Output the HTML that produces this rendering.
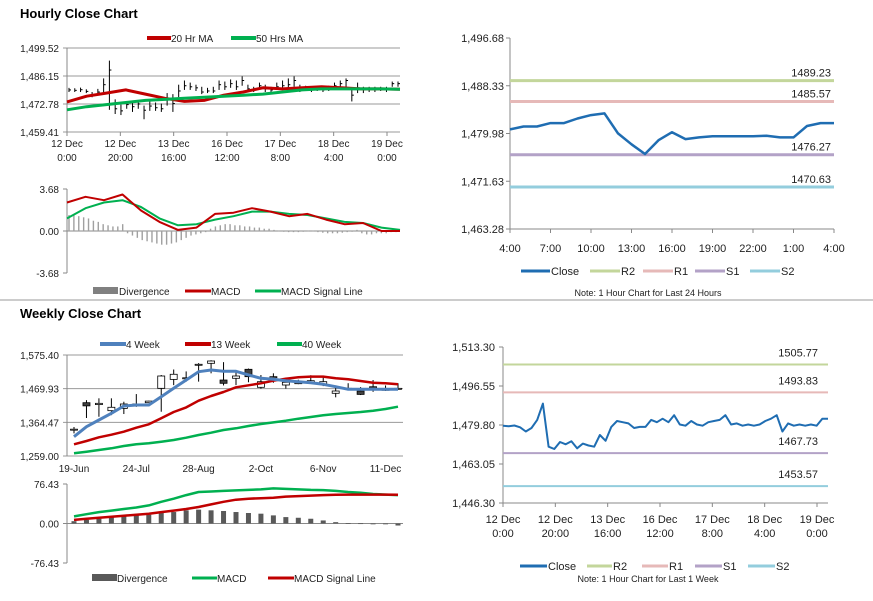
<!DOCTYPE html>
<html><head><meta charset="utf-8"><style>
html,body{margin:0;padding:0;background:#fff;}
svg{display:block;font-family:"Liberation Sans",Arial,sans-serif;}
</style></head><body>
<svg id="c" width="873" height="601" viewBox="0 0 873 601" xmlns="http://www.w3.org/2000/svg">
<text x="20" y="18" font-size="13" font-weight="bold" fill="#000">Hourly Close Chart</text>
<line x1="0" y1="300" x2="873" y2="300" stroke="#999" stroke-width="1"/>
<text x="20" y="318" font-size="13" font-weight="bold" fill="#000">Weekly Close Chart</text>
</svg>
<script>
// ---------- data ----------
const hourlyClose=[1479.5,1479.3,1479.6,1478.8,1477,1478.5,1482,1489,1470.5,1469.5,1472.5,1471.5,1472.8,1469.8,1471.8,1471,1470.5,1475.5,1473,1479,1481.5,1481,1480.5,1478.5,1479,1479,1482,1481,1482.5,1481,1484,1480,1479.5,1481.5,1480,1479.5,1481,1481.5,1482,1484,1480,1480.5,1479.5,1480,1479.5,1480,1481.5,1482.5,1484,1477,1480.5,1479.5,1480,1479.5,1480,1479.5,1482.5,1482.5];
const hourlyHigh=[1480.5,1480.3,1480.6,1479.8,1478.5,1480,1485,1493.5,1475,1472.5,1474,1473.5,1474,1472,1474.5,1473.5,1473,1478,1477.5,1482,1484,1483,1482,1481,1480.5,1481,1484,1483.5,1484.5,1484,1486,1482,1481,1483,1482,1481,1483,1484,1485,1486,1482,1481.5,1481,1481,1481,1481.5,1483,1484,1485,1480,1483,1481,1481,1481,1481,1481,1483.5,1483.5];
const hourlyLow=[1478.5,1478.5,1478.5,1478,1476,1477.5,1478,1470,1468,1467.5,1470.5,1469,1470.5,1465.5,1469.5,1469.5,1469,1472,1469,1476,1479.5,1479.5,1479,1477.5,1478,1478,1479.5,1479.5,1480.5,1479.5,1481.5,1478.5,1478.5,1479.5,1478.5,1478.5,1479.5,1480,1480,1481,1478.5,1479,1478.5,1479,1478.5,1479,1480,1481,1481,1474,1478,1478,1478.5,1478.5,1479,1478.5,1481,1481];
const ma20=[1473.8,1476.5,1478,1479.5,1477.5,1475.5,1474,1474.5,1477,1478.5,1480.5,1480,1480.5,1481,1480.5,1480,1480,1479.8];
const ma50=[1470,1471.5,1472.5,1473.5,1474.5,1475,1475.5,1476,1476.5,1477,1477.5,1478.5,1479.5,1480,1480,1480,1480,1479.8];
const hourTickLabels=[["12 Dec","0:00"],["12 Dec","20:00"],["13 Dec","16:00"],["16 Dec","12:00"],["17 Dec","8:00"],["18 Dec","4:00"],["19 Dec","0:00"]];
const hPriceTicks=[1459.41,1472.78,1486.15,1499.52];
const hMacd=[2.5,3.0,2.7,3.2,1.8,0.8,0.1,0.3,1.5,1.6,2.0,1.7,1.3,1.5,1.0,0.6,0.7,0.0,0.0];
const hSignal=[1.1,2.0,2.5,2.7,2.1,1.1,0.5,0.6,1.0,1.3,1.7,1.7,1.5,1.4,1.1,0.8,0.7,0.3,0.1];
const hDiv=[1.4,1.4,1.3,1.2,1.1,0.9,0.8,0.6,0.5,0.4,0.4,0.6,-0.2,-0.4,-0.6,-0.8,-0.9,-1.0,-1.1,-1.2,-1.2,-1.1,-1.0,-0.8,-0.6,-0.4,-0.3,-0.2,-0.1,0.2,0.4,0.5,0.6,0.6,0.5,0.5,0.4,0.4,0.3,0.3,0.2,0.2,0.1,0.05,-0.05,-0.1,-0.1,-0.1,-0.05,0.05,0.05,-0.1,-0.15,-0.2,-0.2,-0.2,-0.15,-0.1,-0.05,0.1,-0.2,-0.3,-0.3,-0.2,-0.2,-0.2,-0.1,-0.1];
const hMacdTicks=[-3.68,0,3.68];
const dayClose=[1480.7,1481.2,1481.2,1481.8,1481.8,1482.6,1483.2,1483.5,1480.0,1478.1,1476.4,1478.8,1480.2,1479.0,1479.3,1479.5,1479.5,1479.5,1479.5,1479.6,1479.3,1479.3,1481.3,1481.8,1481.8];
const dayTickLabels=["4:00","7:00","10:00","13:00","16:00","19:00","22:00","1:00","4:00"];
const dayTicks=[1463.28,1471.63,1479.98,1488.33,1496.68];
const dayLevels=[1489.23,1485.57,1476.27,1470.63];
const weekLevels=[1505.77,1493.83,1467.73,1453.57];
const weekHourTicks=[1446.30,1463.05,1479.80,1496.55,1513.30];
const wOpen=[1340,1426,1420,1401,1408,1418,1426,1471,1499,1502,1545,1549.4,1497,1502.4,1530.6,1474.2,1506,1481.4,1487,1486.7,1483,1455.4,1469,1462.6,1476,1467,1470];
const wClose=[1343,1416,1424,1411.6,1421.9,1422,1431,1509.6,1515,1504,1546.3,1556.6,1486.7,1509.6,1507.5,1491.8,1507.5,1489.9,1488.6,1494.9,1491.8,1462.6,1471,1452,1468,1468,1471];
const wHigh=[1350,1434,1439.7,1439.7,1429,1453,1432,1512.7,1530,1524,1550,1559,1553,1524,1533,1512.7,1518,1505,1498,1512,1505,1480,1487,1475,1497,1480,1487];
const wLow=[1330,1378,1382,1387,1390.5,1413,1425,1397.7,1481,1492,1492,1518,1480,1481,1490,1470,1488.5,1470,1484,1486,1478,1442.8,1465,1450,1460,1463,1467];
const wk4=[1319.5,1350.9,1371.8,1392.7,1415.6,1418.8,1418.8,1444.9,1471,1497,1523.2,1528.4,1524.3,1524.3,1513,1502.4,1499.2,1495,1491.9,1488.7,1483.5,1476.2,1467.8,1467.8,1467.8,1467.8,1467.8];
const wk13=[1295.6,1306,1317.5,1325.8,1335.2,1347.8,1358.2,1377,1396.8,1411.4,1432.3,1447,1459.5,1474.1,1480.4,1486.6,1495,1501.3,1505.5,1507.6,1507.6,1502.3,1499.2,1493.9,1488.7,1486.6,1483.5];
const wk40=[1267.4,1272.5,1277.8,1283,1290.3,1295.5,1298.7,1303.9,1309.1,1316.4,1324.8,1332.1,1340.4,1345.7,1353,1359.2,1364.4,1369.7,1375.9,1381.2,1386.4,1390.6,1393.7,1396.8,1401,1406.2,1413.5];
const weekTickLabels=["19-Jun","24-Jul","28-Aug","2-Oct","6-Nov","11-Dec"];
const weekTickIdx=[0,5,10,15,20,25];
const wPriceTicks=[1259.00,1364.47,1469.93,1575.40];
const wMacd=[13.7,18,22,25,28,31,35,42,48,55,61,62,63,64,65,66,68,67,66,65,64.7,63,61,59.5,57,56,55];
const wSignal=[7,9,11,13,15,17,19,22,25,28,32,37,42,46,48,49,50,52,53,54,55,55.5,56,56,56,56,55.5];
const wDiv=[4.5,7.2,9.2,12.4,14.4,15.7,17,20.3,22.2,25.5,26.8,25.5,24.2,22.2,20.3,19,15.7,12.4,11.1,9.2,5.9,2.6,0.7,0.5,-0.6,-1,-3.9];
const wMacdTicks=[-76.43,0,76.43];

// ---------- helpers ----------
const svg=document.getElementById('c');
const NS='http://www.w3.org/2000/svg';
function mk(tag,a){const e=document.createElementNS(NS,tag);for(const k in a)e.setAttribute(k,a[k]);svg.appendChild(e);return e;}
function lin(d0,d1,r0,r1){return v=>r0+(v-d0)*(r1-r0)/(d1-d0);}
function idx(n,x0,x1){return i=>x0+i*(x1-x0)/(n-1);}
function fmt(v){return v.toLocaleString('en-US',{minimumFractionDigits:2,maximumFractionDigits:2});}
function poly(arr,xf,yf,color,w){return mk('polyline',{points:arr.map((v,i)=>xf(i).toFixed(1)+','+yf(v).toFixed(1)).join(' '),fill:'none',stroke:color,'stroke-width':w,'stroke-linejoin':'round'});}
function txt(x,y,s,anchor,size){const t=mk('text',{x:x,y:y,'font-size':size||10,fill:'#222','text-anchor':anchor||'start'});t.textContent=s;return t;}
const RED='#c00000',GRN='#00b050',BLUE='#4f81bd',CLOSE='#1f6db2',GRAY='#808080';
const LV=['#c3d69b','#e6b9b8','#b3a2c7','#93cddd'];

// ---------- Panel A: hourly price ----------
{const X0=67,X1=400,yA=lin(1459.41,1499.52,132,48);
 hPriceTicks.forEach(v=>{let g=mk('line',{x1:X0-4,x2:X1,y1:yA(v),y2:yA(v),stroke:'#999','stroke-width':1});
  
  
  let t=txt(X0-8,yA(v)+4,fmt(v),'end');
  
  });
 let ax=mk('line',{x1:X0,x2:X0,y1:48,y2:132,stroke:'#888'});
 
 
 hourTickLabels.forEach((l,i)=>{const x=X0+i*(387-X0)/6;
  let tk=mk('line',{x1:x,x2:x,y1:132,y2:136,stroke:'#888'});
  
  
  let t1=txt(x,147,l[0],'middle');
  
  let t2=txt(x,161,l[1],'middle');
  });
 const xb=idx(hourlyClose.length,X0+2,X1-2);
 hourlyClose.forEach((c,i)=>{const x=xb(i);
  let b=mk('line',{x1:x,x2:x,y1:yA(hourlyHigh[i]),y2:yA(hourlyLow[i]),stroke:'#000','stroke-width':1});
  
  
  let c2=mk('line',{x1:x,x2:x+2,y1:yA(c),y2:yA(c),stroke:'#000','stroke-width':1});
  
  });
 let l1=poly(ma20,idx(ma20.length,X0,X1),yA,RED,3);
 
 
 let l2=poly(ma50,idx(ma50.length,X0,X1),yA,GRN,3);
 
 
 let g1=mk('line',{x1:147,x2:171,y1:38,y2:38,stroke:RED,'stroke-width':4});
 
 
 let g1t=txt(171,42,'20 Hr MA');
 
 let g2=mk('line',{x1:231,x2:256,y1:38,y2:38,stroke:GRN,'stroke-width':4});
 
 
 let g2t=txt(256,42,'50 Hrs MA');
 }

// ---------- Panel B: hourly MACD ----------
{const X0=67,X1=400,yB=lin(-3.68,3.68,273,189);
 hMacdTicks.forEach(v=>{let t=txt(X0-8,yB(v)+4,v.toFixed(2),'end');
  
  
  let k=mk('line',{x1:X0-4,x2:X0,y1:yB(v),y2:yB(v),stroke:'#888'});
  
  });
 let ax=mk('line',{x1:X0,x2:X0,y1:189,y2:273,stroke:'#888'});
 
 
 let z=mk('line',{x1:X0,x2:X1,y1:yB(0),y2:yB(0),stroke:'#888'});
 
 
 const xd=idx(hDiv.length,X0+2,X1-4);
 hDiv.forEach((v,i)=>{const y0=yB(0),y1=yB(v);
  let r=mk('rect',{x:xd(i)-0.7,y:Math.min(y0,y1),width:1.4,height:Math.max(0.8,Math.abs(y1-y0)),fill:'#a0a0a0'});
  
  });
 let l2=poly(hSignal,idx(hSignal.length,X0,X1),yB,GRN,2);
 
 
 let l1=poly(hMacd,idx(hMacd.length,X0,X1),yB,RED,2);
 
 
 let s1=mk('rect',{x:93,y:287,width:25,height:7,fill:GRAY});
 
 
 let t1=txt(119,295,'Divergence');
 
 let s2=mk('line',{x1:185,x2:211,y1:291,y2:291,stroke:RED,'stroke-width':3});
 
 
 let t2=txt(211,295,'MACD');
 
 let s3=mk('line',{x1:255,x2:281,y1:291,y2:291,stroke:GRN,'stroke-width':3});
 
 
 let t3=txt(281,295,'MACD Signal Line');
 }

// ---------- level chart helper ----------
function levelLegend(y,items,noteY,note,noteName){
 items.forEach(it=>{let s=mk('line',{x1:it[1],x2:it[2],y1:y,y2:y,stroke:it[3],'stroke-width':3});
  
  
  let t=txt(it[2]+1,y+4,it[0],'start',11);
  
  });
 let n=txt(648,noteY,note,'middle',9);
 
 }

// ---------- Panel C: 24h ----------
{const X0=510,X1=834,Y0=229,Y1=38,yC=lin(1463.28,1496.68,Y0,Y1);
 let ax=mk('line',{x1:X0,x2:X0,y1:Y1,y2:Y0,stroke:'#888'});
 
 
 let bx=mk('line',{x1:X0,x2:X1,y1:Y0,y2:Y0,stroke:'#888'});
 
 
 dayTicks.forEach(v=>{let k=mk('line',{x1:X0-4,x2:X0,y1:yC(v),y2:yC(v),stroke:'#888'});
  
  
  let t=txt(X0-6,yC(v)+4,fmt(v),'end',11);
  
  });
 dayTickLabels.forEach((l,i)=>{const x=X0+i*(X1-X0)/8;
  let k=mk('line',{x1:x,x2:x,y1:Y0,y2:Y0+4,stroke:'#888'});
  
  
  let t=txt(x,252,l,'middle',11);
  
  });
 const nm=['r2','r1','s1','s2'];
 dayLevels.forEach((v,i)=>{let l=mk('line',{x1:X0,x2:X1,y1:yC(v),y2:yC(v),stroke:LV[i],'stroke-width':3});
  
  
  let t=txt(831,yC(v)-4,v.toFixed(2),'end',11);
  
  });
 let c=poly(dayClose,idx(dayClose.length,X0,X1),yC,CLOSE,2.5);
 
 
 levelLegend(271,[['Close',521,550,CLOSE],['R2',590,620,LV[0]],['R1',643,673,LV[1]],['S1',695,725,LV[2]],['S2',750,780,LV[3]]],296,'Note: 1 Hour Chart for Last 24 Hours','day-chart-note');}

// ---------- Panel F: week hourly ----------
{const X0=503,X1=828,Y0=503,Y1=347,yF=lin(1446.30,1513.30,Y0,Y1);
 let ax=mk('line',{x1:X0,x2:X0,y1:Y1,y2:Y0,stroke:'#888'});
 
 
 let bx=mk('line',{x1:X0,x2:X1,y1:Y0,y2:Y0,stroke:'#888'});
 
 
 weekHourTicks.forEach(v=>{let k=mk('line',{x1:X0-4,x2:X0,y1:yF(v),y2:yF(v),stroke:'#888'});
  
  
  let t=txt(X0-8,yF(v)+4,fmt(v),'end',11);
  
  });
 hourTickLabels.forEach((l,i)=>{const x=X0+i*(817-X0)/6;
  let k=mk('line',{x1:x,x2:x,y1:Y0,y2:Y0+4,stroke:'#888'});
  
  
  let t1=txt(x,523,l[0],'middle',11);
  
  let t2=txt(x,537,l[1],'middle',11);
  });
 const nm=['r2','r1','s1','s2'];
 weekLevels.forEach((v,i)=>{let l=mk('line',{x1:X0,x2:X1,y1:yF(v),y2:yF(v),stroke:LV[i],'stroke-width':2});
  
  
  let t=txt(818,yF(v)-8,v.toFixed(2),'end',11);
  
  });
 let c=poly(hourlyClose,idx(hourlyClose.length,X0,X1),yF,CLOSE,2);
 
 
 levelLegend(566,[['Close',520,547,CLOSE],['R2',587,612,LV[0]],['R1',642,668,LV[1]],['S1',695,722,LV[2]],['S2',748,775,LV[3]]],582,'Note: 1 Hour Chart for Last 1 Week','week-chart-note');}

// ---------- Panel D: weekly candles ----------
{const X0=67,X1=403,yD=lin(1259,1575.4,456,355),xw=idx(wOpen.length,74,398);
 wPriceTicks.forEach(v=>{let g=mk('line',{x1:X0-4,x2:X1,y1:yD(v),y2:yD(v),stroke:'#999'});
  
  
  let t=txt(X0-8,yD(v)+4,fmt(v),'end');
  
  });
 let ax=mk('line',{x1:X0,x2:X0,y1:355,y2:456,stroke:'#888'});
 
 
 weekTickLabels.forEach((l,i)=>{let t=txt(xw(weekTickIdx[i]),472,l,'middle');
  
  });
 wOpen.forEach((o,i)=>{const x=xw(i),c=wClose[i];
  let w=mk('line',{x1:x,x2:x,y1:yD(wHigh[i]),y2:yD(wLow[i]),stroke:'#000'});
  
  
  const top=yD(Math.max(o,c)),h=Math.max(1,Math.abs(yD(o)-yD(c)));
  let b=mk('rect',{x:x-3.5,y:top,width:7,height:h,fill:c<o?'#404040':'#fff',stroke:'#000','stroke-width':0.8});
  
  });
 let a=poly(wk40,xw,yD,GRN,2.5);
 
 let b=poly(wk13,xw,yD,RED,2.5);
 
 let c=poly(wk4,xw,yD,BLUE,3);
 
 [['4 Week',100,126,BLUE,'legend-4-week'],['13 Week',185,211,RED,'legend-13-week'],['40 Week',277,302,GRN,'legend-40-week']].forEach(it=>{
  let s=mk('line',{x1:it[1],x2:it[2],y1:344,y2:344,stroke:it[3],'stroke-width':4});
  
  
  let t=txt(it[2],348,it[0]);
  
  });}

// ---------- Panel E: weekly MACD ----------
{const X0=67,X1=403,yE=lin(-76.43,76.43,563,484),xw=idx(wDiv.length,74,398);
 wMacdTicks.forEach(v=>{let t=txt(X0-8,yE(v)+4,v.toFixed(2),'end');
  
  
  let k=mk('line',{x1:X0-4,x2:X0,y1:yE(v),y2:yE(v),stroke:'#888'});
  
  });
 let ax=mk('line',{x1:X0,x2:X0,y1:484,y2:563,stroke:'#888'});
 
 
 let z=mk('line',{x1:X0,x2:X1,y1:yE(0),y2:yE(0),stroke:'#888'});
 
 
 wDiv.forEach((v,i)=>{const y0=yE(0),y1=yE(v);
  let r=mk('rect',{x:xw(i)-2.5,y:Math.min(y0,y1),width:5,height:Math.max(0.8,Math.abs(y1-y0)),fill:'#595959'});
  
  });
 let l1=poly(wMacd,xw,yE,GRN,2.5);
 
 let l2=poly(wSignal,xw,yE,RED,2.5);
 
 let s1=mk('rect',{x:92,y:574,width:25,height:7,fill:'#595959'});
 
 
 let t1=txt(117,582,'Divergence');
 
 let s2=mk('line',{x1:192,x2:217,y1:578,y2:578,stroke:GRN,'stroke-width':3});
 
 
 let t2=txt(217,582,'MACD');
 
 let s3=mk('line',{x1:268,x2:294,y1:578,y2:578,stroke:RED,'stroke-width':3});
 
 
 let t3=txt(294,582,'MACD Signal Line');
 }
</script>
</body></html>
